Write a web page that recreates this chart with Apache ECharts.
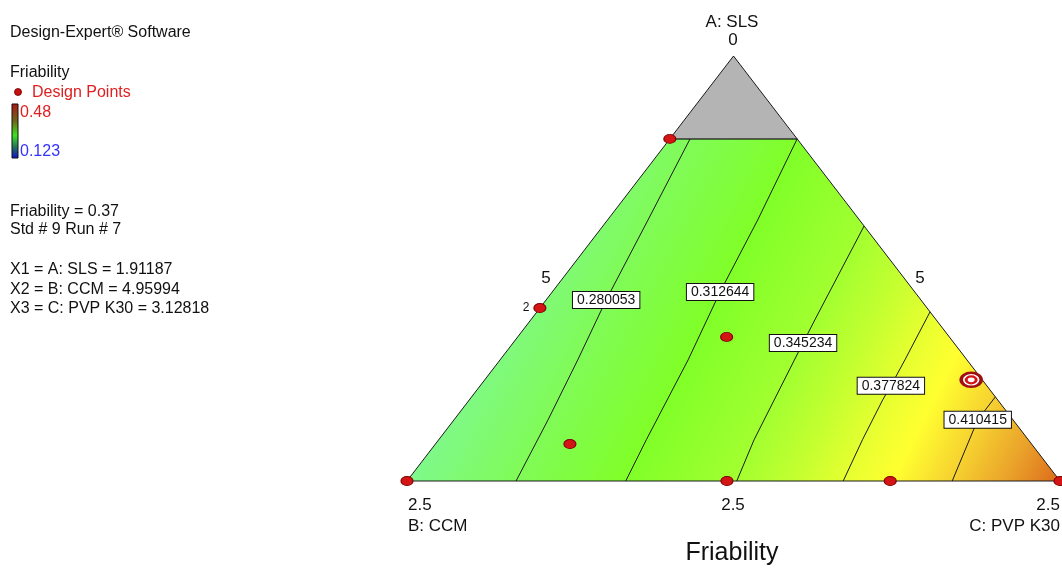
<!DOCTYPE html>
<html>
<head>
<meta charset="utf-8">
<script src="https://cdn.jsdelivr.net/npm/echarts@6/dist/echarts.min.js"></script>
<style>
  html, body { margin: 0; padding: 0; background: #fff; }
  #chart { width: 1062px; height: 568px; }
</style>
</head>
<body>
<div id="chart"></div>
<script>
// all mixture points are [A: SLS, B: CCM, C: PVP K30] as fractions of the simplex
const capA = 0.805 // above this A level the region is outside the design (grey)

const designPoints = [
  [0.805, 0.195, 0],
  [0.407, 0.593, 0],
  [0.339, 0.341, 0.32],
  [0.087, 0.707, 0.206],
  [0, 1, 0],
  [0, 0.51, 0.49],
  [0, 0.26, 0.74],
  [0, 0, 1],
]
const currentPoint = [0.238, 0.017, 0.745]

const contourLevels = [0.280053, 0.312644, 0.345234, 0.377824, 0.410415]
const contour1 = [[0.805, 0.164, 0.031], [0.614, 0.324, 0.062], [0.426, 0.482, 0.092], [0.285, 0.596, 0.119], [0.144, 0.712, 0.144], [0, 0.833, 0.167]]
const contour2 = [[0.805, 0, 0.195], [0.614, 0.156, 0.23], [0.445, 0.298, 0.257], [0.285, 0.427, 0.288], [0.097, 0.585, 0.318], [0, 0.665, 0.335]]
const contour3 = [[0.6, 0, 0.4], [0.379, 0.186, 0.435], [0.325, 0.231, 0.444], [0.097, 0.42, 0.483], [0, 0.495, 0.505]]
const contour4 = [[0.398, 0, 0.602], [0.285, 0.095, 0.62], [0.224, 0.147, 0.629], [0.191, 0.176, 0.633], [0.097, 0.254, 0.649], [0, 0.332, 0.668]]
const contour5 = [[0.198, 0, 0.802], [0.144, 0.054, 0.802], [0.026, 0.145, 0.829], [0, 0.165, 0.835]]
const contours = [contour1, contour2, contour3, contour4, contour5]
const labelIndex = [2, 2, 2, 2, 1]

// colour of the response surface by value
const fillLevels = [0.248, 0.28, 0.3126, 0.345, 0.362, 0.378, 0.392, 0.41, 0.426, 0.442]
const fillColors = ['#7ff98c', '#80fb58', '#80ff28', '#a2ff30', '#c2ff30', '#e6ff30', '#ffff30', '#f6d030', '#eaa22a', '#dc6a1c']
const isoSlope = 0.51 // contours run about 0.51 px left per px down

const tern = (p) => [p[2] + p[0] / 2, p[0]]

const font = 'Arial, "Liberation Sans", sans-serif'
const txt = (x, y, text, size, opts) => ({
  type: 'text',
  x: x,
  y: y,
  style: Object.assign({
    text: text,
    font: size + 'px ' + font,
    fill: '#111',
    textAlign: 'left',
    textVerticalAlign: 'middle',
  }, opts || {}),
})

const dom = document.getElementById('chart')
const chart = echarts.init(dom)

const series = [
  {
    type: 'custom',
    coordinateSystem: 'cartesian2d',
    silent: true,
    z: 1,
    data: [[0, 0]],
    renderItem: function (params, api) {
      const pt = (p) => api.coord(tern(p))
      const bl = pt([0, 1, 0])
      const br = pt([0, 0, 1])
      const apex = pt([1, 0, 0])
      const cl = pt([capA, 1 - capA, 0])
      const cr = pt([capA, 0, 1 - capA])
      const s = isoSlope
      const k = (br[0] - bl[0] + s * (br[1] - bl[1])) / (1 + s * s)
      const lo = fillLevels[0]
      const hi = fillLevels[fillLevels.length - 1]
      const stops = fillLevels.map((v, i) => ({ offset: (v - lo) / (hi - lo), color: fillColors[i] }))
      const grad = new echarts.graphic.LinearGradient(bl[0], bl[1], bl[0] + k, bl[1] + k * s, stops, true)
      return {
        type: 'group',
        children: [
          { type: 'polygon', shape: { points: [bl, br, cr, cl] }, style: { fill: grad, stroke: '#1a1a1a', lineWidth: 1 } },
          { type: 'polygon', shape: { points: [cl, cr, apex] }, style: { fill: '#b4b4b4', stroke: '#1a1a1a', lineWidth: 1 } },
        ],
      }
    },
  },
]

contours.forEach((c, i) => {
  series.push({
    type: 'line',
    name: 'c' + i,
    data: c.map(tern),
    symbol: 'none',
    silent: true,
    z: 3,
    lineStyle: { color: '#1a1a1a', width: 1 },
  })
})

series.push({
  type: 'scatter',
  silent: true,
  z: 4,
  symbolSize: 0,
  itemStyle: { opacity: 1 },
  data: contours.map((c, i) => tern(c[labelIndex[i]]).concat(contourLevels[i])),
  label: {
    show: true,
    position: 'inside',
    formatter: (p) => p.value[2].toFixed(6),
    color: '#111',
    opacity: 1,
    fontFamily: font,
    fontSize: 14,
    lineHeight: 14,
    backgroundColor: '#ffffff',
    borderColor: '#111',
    borderWidth: 1,
    padding: [1, 4],
  },
})

series.push({
  type: 'scatter',
  silent: true,
  z: 5,
  symbolSize: [12, 9],
  itemStyle: { color: '#d41515', borderColor: '#800000', borderWidth: 1, opacity: 1 },
  data: designPoints.map((p, i) => {
    const item = { value: tern(p) }
    if (i === 1) {
      item.label = { show: true, formatter: '2', position: 'left', distance: 4, color: '#111', fontSize: 12, fontFamily: font }
    }
    return item
  }),
})

series.push({
  type: 'scatter',
  silent: true,
  z: 5,
  symbolSize: [20, 14],
  itemStyle: { color: '#fff', borderColor: '#a01010', borderWidth: 3, opacity: 1 },
  data: [tern(currentPoint)],
})
series.push({
  type: 'scatter',
  silent: true,
  z: 6,
  symbolSize: [10, 7],
  itemStyle: { color: '#fff', borderColor: '#d41515', borderWidth: 2.5, opacity: 1 },
  data: [tern(currentPoint)],
})

const option = {
  animation: false,
  backgroundColor: '#fff',
  grid: { left: 407, right: 2, top: 56, bottom: 87 },
  xAxis: { type: 'value', min: 0, max: 1, show: false },
  yAxis: { type: 'value', min: 0, max: 1, show: false },
  series: series,
  graphic: [
    txt(10, 33, 'Design-Expert® Software', 16),
    txt(10, 73, 'Friability', 16),
    { type: 'circle', shape: { cx: 18, cy: 92, r: 3.5 }, style: { fill: '#c81010', stroke: '#600', lineWidth: 0.8 } },
    txt(32, 93, 'Design Points', 16, { fill: '#e02020' }),
    {
      type: 'rect',
      shape: { x: 12, y: 104, width: 6, height: 54 },
      style: {
        stroke: '#111',
        lineWidth: 1,
        fill: new echarts.graphic.LinearGradient(0, 0, 0, 1, [
          { offset: 0, color: '#b01515' },
          { offset: 0.3, color: '#70601a' },
          { offset: 0.58, color: '#40e020' },
          { offset: 0.8, color: '#207060' },
          { offset: 1, color: '#1010d0' },
        ]),
      },
    },
    txt(20, 113, '0.48', 16, { fill: '#e02020' }),
    txt(20, 152, '0.123', 16, { fill: '#3333ff' }),
    txt(10, 212, 'Friability = 0.37', 16),
    txt(10, 230, 'Std # 9 Run # 7', 16),
    txt(10, 270, 'X1 = A: SLS = 1.91187', 16),
    txt(10, 290, 'X2 = B: CCM = 4.95994', 16),
    txt(10, 309, 'X3 = C: PVP K30 = 3.12818', 16),
    txt(732, 22, 'A: SLS', 17, { textAlign: 'center' }),
    txt(733, 40, '0', 17, { textAlign: 'center' }),
    txt(546, 278, '5', 17, { textAlign: 'center' }),
    txt(920, 278, '5', 17, { textAlign: 'center' }),
    txt(408, 505, '2.5', 17),
    txt(408, 526, 'B: CCM', 17),
    txt(733, 505, '2.5', 17, { textAlign: 'center' }),
    txt(1060, 505, '2.5', 17, { textAlign: 'right' }),
    txt(1060, 526, 'C: PVP K30', 17, { textAlign: 'right' }),
    txt(732, 553, 'Friability', 25, { textAlign: 'center' }),
  ],
}

chart.setOption(option)
window.addEventListener('resize', () => chart.resize())
</script>
</body>
</html>
